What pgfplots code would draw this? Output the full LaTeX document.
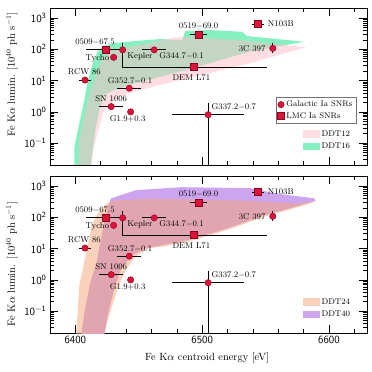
\documentclass[border=0pt]{standalone}
\usepackage{pgfplots}
\usepackage{pgfplotstable}
\pgfplotsset{compat=1.18}

\definecolor{snRed}{RGB}{220,20,60}
\definecolor{snEdge}{RGB}{140,0,30}
\definecolor{ddtGreen}{RGB}{135,240,192}
\definecolor{ddtPink}{RGB}{255,188,198}
\definecolor{ddtPurple}{RGB}{205,165,238}
\definecolor{ddtPeach}{RGB}{245,165,120}

% E [eV], L [1e40 ph/s], x err minus/plus, y err minus/plus
\pgfplotstableread{
E      L     xm    xp    ym    yp
6430.2 55.5  0     0     0     0
6437.3 96    0     0     68.4  67
6462.2 96    9.5   9.5   0     0
6407.6 10.4  5     5     0     0
6442.5 5.7   9.5   9.5   0     0
6428.3 1.47  9.5   9.5   0     0
6443.6 1.0   0     0     0     0
6555.7 108   2     2     34    47
6504.7 0.81  28.5  28.5  0.80  1.07
}\galactic
\pgfplotstableread{
E      L     xm    xp    ym    yp
6424.2 96    16    16    0     0
6497.1 293   6.5   6.5   0     0
6544.1 643   5     5     0     0
6493.1 27.2  56    58    4     5
}\lmc

\tikzset{ann/.style={font=\fontsize{8.5}{9}\selectfont, inner sep=0pt}}

\begin{document}
\begin{tikzpicture}
\path[use as bounding box] (-50bp,-39bp) rectangle (322bp,333bp);

% top panel: DDT12 / DDT16
\begin{axis}[at={(0bp,168bp)}, anchor=south west,
    width=317bp, height=157bp, scale only axis,
    ymode=log,
    xmin=6380, xmax=6630, ymin=0.02, ymax=2100,
    xtick={6400,6500,6600}, xticklabels={,,},
    minor xtick={6380,6420,6440,6460,6480,6520,6540,6560,6580,6620},
    ytick={0.1,1,10,100,1000},
    yticklabels={$\mathsf{10^{-1}}$,$\mathsf{10^{0}}$,$\mathsf{10^{1}}$,$\mathsf{10^{2}}$,$\mathsf{10^{3}}$},
    minor ytick={0.02,0.03,0.04,0.05,0.06,0.07,0.08,0.09,
                 0.2,0.3,0.4,0.5,0.6,0.7,0.8,0.9,
                 2,3,4,5,6,7,8,9,20,30,40,50,60,70,80,90,
                 200,300,400,500,600,700,800,900,2000},
    tick align=inside, major tick length=8bp, minor tick length=4bp,
    tick style={black, line width=0.6pt},
    axis line style={line width=0.6pt},
    yticklabel style={font=\fontsize{11}{13}\selectfont\sffamily},
    ylabel={Fe K$\alpha$ lumin. [10$^{40}$ ph s$^{-1}$]},
    ylabel style={font=\fontsize{10.5}{12}\selectfont},
    every axis y label/.append style={at={(axis description cs:-0.12,0.576)}, anchor=center},
    legend cell align=left,
    legend style={at={(0.965,0.431)}, anchor=north east, draw=black!55, line width=0.4pt,
                  font=\fontsize{8.2}{9}\selectfont, inner sep=1.5bp, row sep=0pt},
]
\addplot[fill=ddtGreen, draw=none, forget plot] coordinates {
  (6399.21,0.0161) (6399.21,0.0757) (6403.15,0.442) (6407.09,2.40) (6409.45,8.38)
  (6413.39,31.5) (6417.32,82.0) (6422.05,127) (6430.71,159) (6446.46,184)
  (6466.14,213) (6484.25,198) (6486.61,385) (6505.51,414) (6531.50,365)
  (6535.43,266) (6580.31,175) (6537.01,83.8) (6492.91,25.3) (6466.14,13.0)
  (6448.82,8.38) (6434.65,5.81) (6423.62,3.73) (6418.90,1.151) (6415.75,0.264)
  (6411.81,0.0161)};
\addplot[fill=ddtPink, fill opacity=0.5, draw=none, forget plot] coordinates {
  (6402.36,0.0161) (6403.15,0.1265) (6407.09,0.796) (6411.02,3.47) (6415.75,15.1)
  (6421.26,52.7) (6428.35,95.1) (6450.39,137) (6477.95,238) (6486.61,247)
  (6529.13,198) (6581.89,116) (6537.01,35.7) (6492.91,13.0) (6466.14,7.23)
  (6448.82,4.66) (6438.58,3.47) (6430.71,2.40) (6422.05,0.993) (6418.11,0.264)
  (6414.17,0.0607) (6412.60,0.0161)};
\addplot[only marks, mark=*, mark size=3.2bp, mark options={fill=snRed, draw=snEdge, line width=0.4pt},
    error bars/.cd, x dir=both, x explicit, y dir=both, y explicit, error mark=none,
    error bar style={black, line width=0.8pt}]
  table[x=E, y=L, x error minus=xm, x error plus=xp, y error minus=ym, y error plus=yp] {\galactic};
\addplot[only marks, mark=square*, mark size=3.4bp, mark options={fill=snRed, draw=snEdge, line width=0.4pt},
    error bars/.cd, x dir=both, x explicit, y dir=both, y explicit, error mark=none,
    error bar style={black, line width=0.8pt}]
  table[x=E, y=L, x error minus=xm, x error plus=xp, y error minus=ym, y error plus=yp] {\lmc};
\legend{Galactic Ia SNRs, LMC Ia SNRs}
\node[ann] at (axis cs:6415.5,171) {0509$-$67.5};
\node[ann, anchor=east] at (axis cs:6426.8,49.7) {Tycho};
\node[ann, anchor=west] at (axis cs:6440.9,60.3) {Kepler};
\node[ann, anchor=west] at (axis cs:6466.1,62) {G344.7$-$0.1};
\node[ann] at (axis cs:6407.1,19.2) {RCW 86};
\node[ann] at (axis cs:6443.1,10.1) {G352.7$-$0.1};
\node[ann] at (axis cs:6428.3,2.62) {SN 1006};
\node[ann] at (axis cs:6441.2,0.58) {G1.9$+$0.3};
\node[ann] at (axis cs:6497.2,555) {0519$-$69.0};
\node[ann, anchor=west] at (axis cs:6551.7,643) {N103B};
\node[ann, anchor=east] at (axis cs:6550.0,108) {3C 397};
\node[ann] at (axis cs:6491.5,12.1) {DEM L71};
\node[ann, anchor=west] at (axis cs:6507.3,1.40) {G337.2$-$0.7};
\end{axis}

\begin{axis}[at={(0bp,168bp)}, anchor=south west,
    width=317bp, height=157bp, scale only axis, hide axis,
    xmin=0, xmax=1, ymin=0, ymax=1,
    legend style={at={(0.963,0.068)}, anchor=south east, draw=none, fill=none,
                  font=\fontsize{8.3}{9}\selectfont, row sep=1.2bp},
    legend cell align=left,
    legend image code/.code={\fill[#1] (0bp,-3.8bp) rectangle (17bp,3.8bp);},
]
\addlegendimage{fill=ddtPink, fill opacity=0.5, draw=none}
\addlegendentry{DDT12}
\addlegendimage{fill=ddtGreen, draw=none}
\addlegendentry{DDT16}
\end{axis}

% bottom panel: DDT24 / DDT40
\begin{axis}[at={(0bp,0bp)}, anchor=south west,
    width=317bp, height=157bp, scale only axis,
    ymode=log,
    xmin=6380, xmax=6630, ymin=0.02, ymax=2100,
    xtick={6400,6500,6600}, xticklabels={6400,6500,6600},
    minor xtick={6380,6420,6440,6460,6480,6520,6540,6560,6580,6620},
    ytick={0.1,1,10,100,1000},
    yticklabels={$\mathsf{10^{-1}}$,$\mathsf{10^{0}}$,$\mathsf{10^{1}}$,$\mathsf{10^{2}}$,$\mathsf{10^{3}}$},
    minor ytick={0.02,0.03,0.04,0.05,0.06,0.07,0.08,0.09,
                 0.2,0.3,0.4,0.5,0.6,0.7,0.8,0.9,
                 2,3,4,5,6,7,8,9,20,30,40,50,60,70,80,90,
                 200,300,400,500,600,700,800,900,2000},
    tick align=inside, major tick length=8bp, minor tick length=4bp,
    tick style={black, line width=0.6pt},
    axis line style={line width=0.6pt},
    xticklabel style={font=\fontsize{11}{13}\selectfont\sffamily},
    yticklabel style={font=\fontsize{11}{13}\selectfont\sffamily},
    xlabel={Fe K$\alpha$ centroid energy [eV]},
    xlabel style={font=\fontsize{10.5}{12}\selectfont},
    every axis x label/.append style={at={(axis description cs:0.496,-0.16)}, anchor=center},
    ylabel={Fe K$\alpha$ lumin. [10$^{40}$ ph s$^{-1}$]},
    ylabel style={font=\fontsize{10.5}{12}\selectfont},
    every axis y label/.append style={at={(axis description cs:-0.12,0.44)}, anchor=center},
]
\addplot[fill=ddtPurple, draw=none, forget plot] coordinates {
  (6404.46,0.0168) (6407.61,0.1195) (6411.81,0.850) (6416.27,2.90) (6419.69,16.1)
  (6422.83,70.2) (6425.98,239) (6428.08,401) (6447.77,739) (6483.20,922)
  (6538.32,857) (6559.32,564) (6588.19,410) (6589.50,337) (6575.07,228)
  (6548.82,115) (6522.57,48.6) (6493.70,20.6) (6470.08,13.2) (6454.33,9.87)
  (6443.83,5.75) (6435.96,2.16) (6430.71,0.5206) (6425.46,0.0732) (6422.83,0.0168)};
\addplot[fill=ddtPeach, fill opacity=0.5, draw=none, forget plot] coordinates {
  (6400.53,0.0168) (6403.15,0.682) (6407.61,4.73) (6412.86,54.9) (6417.59,130)
  (6424.15,270) (6430.71,346) (6456.96,391) (6496.33,372) (6538.32,337)
  (6575.07,277) (6589.76,321) (6575.07,207) (6548.82,104) (6522.57,43.0)
  (6493.70,18.7) (6470.08,11.7) (6458.27,10.4) (6447.77,5.75) (6439.90,2.16)
  (6433.33,0.5206) (6426.77,0.0732) (6422.31,0.0168)};
\addplot[only marks, mark=*, mark size=3.2bp, mark options={fill=snRed, draw=snEdge, line width=0.4pt},
    error bars/.cd, x dir=both, x explicit, y dir=both, y explicit, error mark=none,
    error bar style={black, line width=0.8pt}]
  table[x=E, y=L, x error minus=xm, x error plus=xp, y error minus=ym, y error plus=yp] {\galactic};
\addplot[only marks, mark=square*, mark size=3.4bp, mark options={fill=snRed, draw=snEdge, line width=0.4pt},
    error bars/.cd, x dir=both, x explicit, y dir=both, y explicit, error mark=none,
    error bar style={black, line width=0.8pt}]
  table[x=E, y=L, x error minus=xm, x error plus=xp, y error minus=ym, y error plus=yp] {\lmc};
\node[ann] at (axis cs:6415.5,171) {0509$-$67.5};
\node[ann, anchor=east] at (axis cs:6426.8,49.7) {Tycho};
\node[ann, anchor=west] at (axis cs:6440.9,60.3) {Kepler};
\node[ann, anchor=west] at (axis cs:6466.1,62) {G344.7$-$0.1};
\node[ann] at (axis cs:6407.1,19.2) {RCW 86};
\node[ann] at (axis cs:6443.1,10.1) {G352.7$-$0.1};
\node[ann] at (axis cs:6428.3,2.62) {SN 1006};
\node[ann] at (axis cs:6441.2,0.58) {G1.9$+$0.3};
\node[ann] at (axis cs:6497.2,555) {0519$-$69.0};
\node[ann, anchor=west] at (axis cs:6551.7,643) {N103B};
\node[ann, anchor=east] at (axis cs:6550.0,108) {3C 397};
\node[ann] at (axis cs:6491.5,12.1) {DEM L71};
\node[ann, anchor=west] at (axis cs:6507.3,1.40) {G337.2$-$0.7};
\end{axis}

\begin{axis}[at={(0bp,0bp)}, anchor=south west,
    width=317bp, height=157bp, scale only axis, hide axis,
    xmin=0, xmax=1, ymin=0, ymax=1,
    legend style={at={(0.963,0.068)}, anchor=south east, draw=none, fill=none,
                  font=\fontsize{8.3}{9}\selectfont, row sep=1.2bp},
    legend cell align=left,
    legend image code/.code={\fill[#1] (0bp,-3.8bp) rectangle (17bp,3.8bp);},
]
\addlegendimage{fill=ddtPeach, fill opacity=0.5, draw=none}
\addlegendentry{DDT24}
\addlegendimage{fill=ddtPurple, draw=none}
\addlegendentry{DDT40}
\end{axis}
\end{tikzpicture}
\end{document}
